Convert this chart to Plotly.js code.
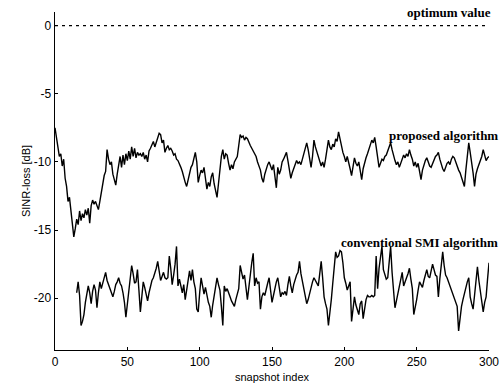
<!DOCTYPE html>
<html>
<head>
<meta charset="utf-8">
<script src="https://cdn.plot.ly/plotly-3.0.1.min.js"></script>
<style>html,body{margin:0;padding:0;background:#fff;}#chart{width:503px;height:389px;}</style>
</head>
<body>
<div id="chart"></div>
<script>
// snapshot index 0..300
const proposed = [
-7.5,-8.3,-9.0,-9.6,-9.4,-10.3,-9.8,-11.2,-11.8,-12.9,
-12.6,-13.5,-14.8,-15.5,-14.9,-14.2,-14.6,-13.6,-14.3,-13.8,
-14.1,-13.5,-13.9,-13.4,-14.5,-13.2,-12.8,-13.1,-12.9,-13.3,
-13.5,-12.9,-12.2,-11.6,-11.0,-10.7,-9.1,-9.8,-10.2,-10.0,
-10.9,-11.3,-11.7,-10.9,-10.1,-9.6,-10.4,-9.5,-10.2,-9.4,
-9.9,-9.2,-9.8,-8.9,-9.6,-9.0,-9.7,-9.3,-9.5,-9.4,
-9.6,-9.3,-9.8,-9.5,-10.0,-9.2,-9.0,-8.8,-8.5,-8.9,
-8.6,-8.2,-7.9,-8.0,-8.6,-8.4,-9.3,-9.0,-8.8,-9.1,
-9.0,-9.2,-9.5,-9.4,-9.8,-9.9,-10.1,-10.4,-10.7,-11.2,
-11.5,-11.8,-11.3,-10.9,-10.4,-10.2,-9.6,-9.3,-10.0,-11.5,
-11.0,-10.6,-10.8,-10.4,-11.2,-12.0,-11.5,-11.8,-11.1,-10.8,
-11.6,-12.1,-12.6,-11.6,-10.5,-9.6,-9.1,-9.8,-9.4,-9.5,
-10.1,-10.6,-10.2,-10.5,-10.0,-9.8,-9.6,-8.8,-8.0,-8.2,
-8.1,-8.4,-8.2,-8.3,-8.6,-8.8,-9.0,-9.2,-9.3,-9.6,
-10.0,-10.3,-10.6,-11.2,-11.5,-10.9,-10.5,-10.2,-10.0,-10.3,
-10.6,-10.2,-11.0,-11.9,-10.4,-10.9,-10.6,-10.0,-9.8,-9.6,
-9.3,-9.9,-10.6,-11.2,-10.8,-10.5,-10.2,-9.9,-10.1,-10.0,
-10.2,-9.8,-9.4,-9.0,-8.6,-9.1,-9.8,-10.4,-9.6,-8.4,
-8.9,-9.3,-9.7,-9.9,-10.3,-10.0,-10.4,-9.8,-9.0,-8.4,
-8.9,-9.1,-8.7,-8.9,-8.3,-8.5,-7.8,-8.4,-8.8,-9.3,
-9.6,-10.0,-9.6,-10.2,-10.5,-11.0,-10.4,-9.7,-10.1,-10.3,
-10.0,-10.6,-11.3,-10.5,-10.0,-9.7,-9.4,-9.1,-8.7,-8.4,
-8.6,-8.2,-8.9,-9.6,-10.4,-10.1,-9.8,-9.9,-9.6,-9.5,
-9.2,-8.9,-8.6,-9.1,-9.6,-9.9,-10.2,-10.0,-10.4,-10.1,
-9.8,-9.5,-9.7,-9.4,-9.6,-9.1,-9.5,-9.8,-10.3,-10.0,
-10.4,-10.1,-10.7,-11.3,-10.6,-10.2,-9.9,-9.7,-10.0,-10.3,
-10.4,-10.1,-9.8,-9.6,-9.5,-9.3,-9.8,-10.2,-10.5,-10.7,
-10.4,-10.1,-10.0,-10.2,-9.8,-9.6,-9.7,-10.0,-10.4,-10.6,
-10.8,-11.1,-11.5,-11.8,-10.6,-9.4,-8.6,-9.3,-9.9,-10.8,
-11.8,-10.9,-10.5,-10.2,-10.0,-9.6,-9.1,-9.6,-9.9,-9.7,
-9.6
];
const proposedStart = 0;

// snapshot index 15..300
const conventional = [
-19.6,-18.8,-19.8,-22.0,-21.7,
-21.2,-20.3,-19.8,-19.1,-19.6,-20.4,-19.5,-19.0,-19.4,-20.7,
-19.6,-18.8,-19.3,-18.9,-18.6,-18.1,-18.7,-19.0,-19.3,-19.6,
-19.9,-19.5,-19.0,-18.8,-18.5,-18.9,-19.1,-19.6,-20.3,-21.4,
-20.5,-19.5,-18.8,-17.6,-18.2,-18.9,-18.8,-17.9,-19.4,-21.0,
-19.9,-18.8,-19.2,-19.7,-20.2,-19.6,-19.1,-18.7,-18.5,-18.2,
-17.8,-17.3,-18.0,-18.7,-18.4,-18.1,-18.5,-18.6,-18.5,-16.9,
-17.8,-19.0,-18.3,-17.5,-16.2,-19.1,-18.6,-19.2,-19.6,-19.0,
-20.1,-19.4,-18.6,-18.0,-18.7,-17.9,-18.8,-19.3,-20.8,-21.0,
-19.6,-18.5,-19.1,-19.7,-19.2,-19.8,-20.3,-20.6,-21.4,-20.5,
-19.9,-19.2,-18.5,-19.0,-19.4,-20.6,-22.0,-19.1,-19.5,-19.3,
-19.7,-19.9,-20.2,-20.4,-20.6,-20.1,-19.6,-19.3,-17.6,-18.0,
-18.6,-18.3,-19.1,-20.1,-19.2,-18.0,-17.4,-16.7,-19.1,-18.5,
-18.9,-18.8,-20.8,-19.9,-19.6,-19.8,-19.2,-18.9,-18.5,-19.4,
-20.3,-19.8,-19.2,-18.8,-18.5,-19.3,-19.9,-19.6,-19.7,-19.5,
-19.8,-19.0,-18.4,-19.1,-19.6,-19.0,-18.6,-18.3,-18.1,-17.3,
-18.2,-18.8,-19.5,-20.0,-20.4,-20.1,-19.6,-19.1,-18.8,-18.5,
-18.7,-19.0,-19.1,-18.2,-17.3,-18.5,-19.9,-20.4,-20.8,-22.0,
-21.2,-20.1,-18.9,-17.7,-16.6,-17.0,-16.9,-16.5,-16.6,-17.4,
-18.5,-18.9,-19.4,-19.1,-18.8,-21.7,-20.6,-19.9,-20.5,-20.9,
-21.2,-20.4,-20.2,-21.5,-20.6,-20.1,-19.8,-19.9,-19.9,-19.8,
-19.9,-19.8,-16.9,-19.3,-17.8,-16.8,-16.2,-17.9,-18.3,-18.6,
-18.5,-17.2,-16.2,-18.1,-19.4,-20.7,-20.2,-19.6,-19.0,-18.4,
-18.1,-19.1,-18.7,-18.5,-18.2,-17.8,-18.6,-19.3,-21.2,-20.7,
-20.1,-19.4,-18.8,-19.0,-19.2,-18.7,-18.3,-17.9,-18.4,-18.5,
-18.0,-17.5,-17.9,-18.3,-18.4,-19.9,-18.6,-17.4,-16.6,-17.6,
-18.3,-18.5,-18.8,-19.1,-19.4,-19.8,-20.1,-20.4,-20.6,-22.4,
-21.3,-20.6,-20.1,-19.6,-19.1,-18.8,-18.5,-19.9,-20.4,-20.8,
-19.8,-18.6,-17.7,-18.7,-19.6,-20.4,-21.0,-20.3,-19.9,-18.6,
-17.4
];
const conventionalStart = 15;

const optimumX = [0, 300];
const optimumY = [0, 0];

const xTicks = [0, 50, 100, 150, 200, 250, 300];
const yTicks = [0, -5, -10, -15, -20];

const labelOptimum = "optimum value";
const labelProposed = "proposed algorithm";
const labelConventional = "conventional SMI algorithm";

const idx = (arr, start) => arr.map((_, i) => start + i);

const traces = [
  {x: optimumX, y: optimumY, mode: 'lines', line: {color: '#000', width: 1.4, dash: '3px,4px'}, hoverinfo: 'skip'},
  {x: idx(proposed, proposedStart), y: proposed, mode: 'lines', line: {color: '#000', width: 1.4}},
  {x: idx(conventional, conventionalStart), y: conventional, mode: 'lines', line: {color: '#000', width: 1.4}}
];

const annFont = {family: '"Liberation Serif", "DejaVu Serif", serif', size: 13, color: '#000', weight: 'bold'};

const layout = {
  width: 503, height: 389,
  margin: {l: 55, r: 14, t: 12, b: 39},
  paper_bgcolor: '#fff', plot_bgcolor: '#fff',
  showlegend: false,
  font: {family: '"Liberation Sans", Arial, sans-serif', size: 11, color: '#000'},
  xaxis: {
    range: [0, 300], tickvals: xTicks, ticktext: xTicks.map(String),
    ticks: 'inside', ticklen: 3, tickcolor: '#000', showgrid: false, zeroline: false,
    showline: true, linecolor: '#000', linewidth: 1.4, mirror: false,
    title: {text: 'snapshot index', font: {size: 11}, standoff: 5},
    tickfont: {size: 12}
  },
  yaxis: {
    range: [-23.8, 1.0], tickvals: yTicks, ticktext: yTicks.map(String),
    ticks: 'inside', ticklen: 3, tickcolor: '#000', showgrid: false, zeroline: false,
    showline: true, linecolor: '#000', linewidth: 1.4, mirror: false,
    title: {text: 'SINR-loss [dB]', font: {size: 11}, standoff: 1},
    tickfont: {size: 12}
  },
  annotations: [
    {xref: 'paper', yref: 'paper', x: 1.01, y: 1.0, xanchor: 'right', yanchor: 'middle', text: labelOptimum, showarrow: false, font: annFont},
    {xref: 'paper', yref: 'paper', x: 1.025, y: 0.635, xanchor: 'right', yanchor: 'middle', text: labelProposed, showarrow: false, font: annFont},
    {xref: 'paper', yref: 'paper', x: 1.025, y: 0.317, xanchor: 'right', yanchor: 'middle', text: labelConventional, showarrow: false, font: annFont}
  ]
};

Plotly.newPlot('chart', traces, layout, {displayModeBar: false, staticPlot: true});
</script>
</body>
</html>
